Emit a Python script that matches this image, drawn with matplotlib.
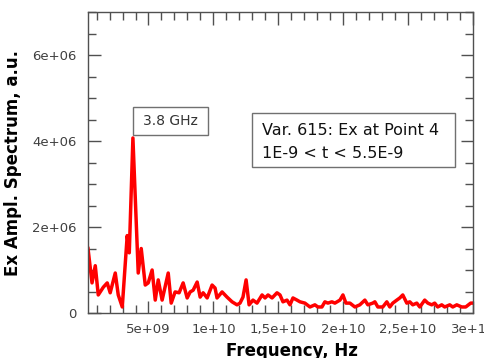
import matplotlib
matplotlib.use("Agg")
import matplotlib.pyplot as plt
from matplotlib.ticker import MultipleLocator, FuncFormatter
from matplotlib.patches import Rectangle

# Frequency (GHz) and amplitude (1e6 a.u.)
freq_ghz = [0.34, 0.65, 0.90, 1.13, 1.52, 1.82, 2.05, 2.44, 2.67, 2.98,
            3.36, 3.52, 3.80, 4.21, 4.44, 4.75, 4.98, 5.28, 5.52, 5.75,
            6.05, 6.52, 6.75, 7.05, 7.36, 7.67, 7.98, 8.21, 8.44, 8.75,
            8.98, 9.21, 9.52, 9.90, 10.13, 10.28, 10.67, 11.05, 11.44, 11.82,
            12.05, 12.28, 12.52, 12.75, 13.05, 13.36, 13.75, 13.98, 14.21, 14.52,
            14.90, 15.13, 15.36, 15.67, 15.90, 16.13, 16.44, 16.67, 17.05, 17.44,
            17.82, 18.05, 18.36, 18.59, 18.82, 19.13, 19.36, 19.75, 19.98, 20.21,
            20.52, 20.90, 21.28, 21.67, 21.90, 22.28, 22.44, 22.67, 23.05, 23.36,
            23.59, 23.82, 24.13, 24.36, 24.59, 24.90, 25.13, 25.36, 25.67, 25.90,
            26.28, 26.52, 26.82, 27.05, 27.28, 27.59, 27.82, 28.21, 28.44, 28.75,
            29.13, 29.44, 29.82, 30.00]
ampl_1e6 = [1.50, 0.70, 1.10, 0.42, 0.60, 0.70, 0.47, 0.93, 0.42, 0.14,
            1.80, 1.40, 4.07, 0.93, 1.50, 0.65, 0.70, 1.00, 0.30, 0.77,
            0.30, 0.93, 0.23, 0.49, 0.47, 0.70, 0.35, 0.49, 0.53, 0.72,
            0.37, 0.47, 0.35, 0.65, 0.58, 0.35, 0.49, 0.37, 0.26, 0.19,
            0.23, 0.37, 0.77, 0.19, 0.30, 0.23, 0.42, 0.35, 0.42, 0.35,
            0.47, 0.42, 0.26, 0.30, 0.19, 0.35, 0.30, 0.26, 0.23, 0.14,
            0.19, 0.14, 0.14, 0.26, 0.23, 0.26, 0.23, 0.30, 0.42, 0.23,
            0.23, 0.14, 0.19, 0.30, 0.19, 0.23, 0.26, 0.14, 0.14, 0.26,
            0.14, 0.23, 0.30, 0.35, 0.42, 0.23, 0.26, 0.19, 0.23, 0.14,
            0.30, 0.23, 0.19, 0.23, 0.14, 0.19, 0.14, 0.19, 0.14, 0.19,
            0.14, 0.14, 0.23, 0.23]

x_range = (0.34e9, 3.0e10)
y_range = (0, 7.0e6)
peak_label = "3.8 GHz"
info_lines = ["Var. 615: Ex at Point 4", "1E-9 < t < 5.5E-9"]
x_label = "Frequency, Hz"
y_label = "Ex Ampl. Spectrum, a.u."

x_tick_text = {5e9: "5e+09", 1e10: "1e+10", 1.5e10: "1,5e+10",
               2e10: "2e+10", 2.5e10: "2,5e+10", 3e10: "3e+10"}
y_tick_text = {0: "0", 2e6: "2e+06", 4e6: "4e+06", 6e6: "6e+06"}

freq = [f * 1e9 for f in freq_ghz]
ampl = [a * 1e6 for a in ampl_1e6]

W, H = 485, 358
fig = plt.figure(figsize=(W/100, H/100), dpi=100)
ax = fig.add_axes([88/W, 1-313/H, (473-88)/W, (313-12)/H])

ax.plot(freq, ampl, color="#ff0000", lw=2.5, solid_joinstyle="round")
ax.set_xlim(*x_range)
ax.set_ylim(*y_range)

spine_col = "#505050"
for s in ax.spines.values():
    s.set_color(spine_col)
    s.set_linewidth(1.0)

ax.xaxis.set_major_locator(MultipleLocator(5e9))
ax.xaxis.set_minor_locator(MultipleLocator(1e9))
ax.yaxis.set_major_locator(MultipleLocator(2e6))
ax.yaxis.set_minor_locator(MultipleLocator(0.5e6))
ax.xaxis.set_major_formatter(FuncFormatter(lambda v, p: x_tick_text.get(round(v, -8), "")))
ax.yaxis.set_major_formatter(FuncFormatter(lambda v, p: y_tick_text.get(round(v, -4), "")))

ax.tick_params(which="both", direction="in", top=True, right=True,
               color=spine_col, labelcolor="#404040", labelsize=9.5)
ax.tick_params(which="major", length=9, width=1)
ax.tick_params(which="minor", length=6, width=1)
ax.tick_params(axis="x", pad=7)
ax.tick_params(axis="y", pad=8)

ax.set_xlabel(x_label, fontsize=12, fontweight="bold", color="#000000")
ax.set_ylabel(y_label, fontsize=12, fontweight="bold", color="#000000")
ax.xaxis.set_label_coords((292-88)/385, -(356-313)/301, transform=ax.transAxes)
ax.xaxis.label.set_va("baseline")
ax.yaxis.set_label_coords(-(88-22)/385, 0.5)

def px(x, y):
    return x/W, 1 - y/H

# peak label box
x0, y0 = px(133, 135)
x1, y1 = px(208, 107)
fig.patches.append(Rectangle((x0, y0), x1-x0, y1-y0, transform=fig.transFigure,
                             fc="white", ec="#707070", lw=1, zorder=5))
tx, ty = px(170.5, 121)
fig.text(tx, ty, peak_label, ha="center", va="center", fontsize=10,
         color="#333333", zorder=6)

# info box
x0, y0 = px(252, 167)
x1, y1 = px(455, 113)
fig.patches.append(Rectangle((x0, y0), x1-x0, y1-y0, transform=fig.transFigure,
                             fc="white", ec="#707070", lw=1, zorder=5))
for line, yy in zip(info_lines, [131, 153]):
    tx, ty = px(262, yy)
    fig.text(tx, ty, line, ha="left", va="center", fontsize=11.5,
             color="#111111", zorder=6)

fig.savefig("out.png", dpi=100)
